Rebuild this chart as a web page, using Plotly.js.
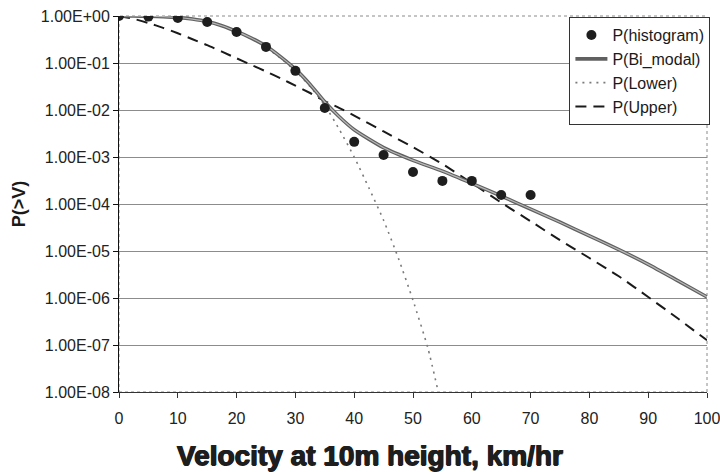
<!DOCTYPE html>
<html>
<head>
<meta charset="utf-8">
<script src="https://cdn.plot.ly/plotly-3.0.1.min.js"></script>
<style>
  html, body { margin: 0; padding: 0; background: #ffffff; }
  #chart { width: 720px; height: 472px; }
</style>
</head>
<body>
<div id="chart"></div>
<script>
// Histogram points
const histVelocity = [0, 5, 10, 15, 20, 25, 30, 35, 40, 45, 50, 55, 60, 65, 70];
const pHistogram = [1.0, 0.97, 0.91, 0.745, 0.457, 0.22, 0.068, 0.011, 0.0021, 0.0011, 0.00048, 0.00031, 0.00031, 0.000155, 0.000155];

// Fitted curves
const fitVelocity = [0, 2.5, 5, 7.5, 10, 12.5, 15, 17.5, 20, 22.5, 25, 27.5, 30, 32.5, 35, 37.5, 40, 45, 50, 55, 60, 65, 70, 75, 80, 85, 90, 95, 100];
const pBimodal = [1.0, 1.0, 0.99, 0.97, 0.93, 0.86, 0.76, 0.62, 0.47, 0.34, 0.23, 0.135, 0.074, 0.035, 0.0148, 0.0071, 0.0038, 0.00158, 0.00085, 0.0005, 0.000275, 0.000148, 7.8e-5, 4.1e-5, 2.1e-5, 1.07e-5, 5.2e-6, 2.35e-6, 1.05e-6];
const pUpper = [1.0, 0.87, 0.71, 0.56, 0.43, 0.32, 0.24, 0.174, 0.126, 0.091, 0.066, 0.047, 0.033, 0.023, 0.0155, 0.011, 0.0076, 0.0035, 0.00162, 0.00071, 0.00028, 0.000107, 4.3e-5, 1.7e-5, 7.1e-6, 2.9e-6, 1.05e-6, 3.7e-7, 1.26e-7];

const lowerVelocity = [0, 5, 10, 15, 20, 22.5, 25, 27.5, 30, 32.5, 35, 37.5, 40, 42.5, 45, 47.5, 50, 52.5, 54.3];
const pLower = [1.0, 0.99, 0.93, 0.76, 0.457, 0.33, 0.214, 0.126, 0.068, 0.0316, 0.0126, 0.0038, 0.001, 0.00022, 4.5e-5, 7.1e-6, 8.9e-7, 8.9e-8, 1.0e-8];

// Axis ticks
const yTickVals = [1, 1e-1, 1e-2, 1e-3, 1e-4, 1e-5, 1e-6, 1e-7, 1e-8];
const yTickText = ['1.00E+00', '1.00E-01', '1.00E-02', '1.00E-03', '1.00E-04', '1.00E-05', '1.00E-06', '1.00E-07', '1.00E-08'];
const xTickVals = [0, 10, 20, 30, 40, 50, 60, 70, 80, 90, 100];

const FONT = '"Liberation Sans", Arial, sans-serif';

const traces = [
  {
    x: lowerVelocity, y: pLower, type: 'scatter', mode: 'lines', name: 'P(Lower)',
    line: { color: '#7a7a7a', width: 1.6, dash: '2px,5px', shape: 'spline', smoothing: 0.6 },
    legendrank: 3
  },
  {
    x: fitVelocity, y: pUpper, type: 'scatter', mode: 'lines', name: 'P(Upper)',
    line: { color: '#1a1a1a', width: 2, dash: '11px,7px', shape: 'spline', smoothing: 0.6 },
    legendrank: 4
  },
  {
    x: fitVelocity, y: pBimodal, type: 'scatter', mode: 'lines', name: 'P(Bi_modal)',
    line: { color: '#606060', width: 3.6, shape: 'spline', smoothing: 0.6 },
    legendrank: 2
  },
  {
    x: fitVelocity, y: pBimodal, type: 'scatter', mode: 'lines', name: 'P(Bi_modal)',
    line: { color: '#b8b8b8', width: 1.2, shape: 'spline', smoothing: 0.6 },
    showlegend: false, hoverinfo: 'skip'
  },
  {
    x: histVelocity, y: pHistogram, type: 'scatter', mode: 'markers', name: 'P(histogram)',
    marker: { color: '#1e1e1e', size: 10, symbol: 'circle' },
    legendrank: 1
  }
];

const layout = {
  width: 720, height: 472,
  margin: { l: 119, r: 13, t: 16, b: 80, autoexpand: false },
  paper_bgcolor: '#ffffff', plot_bgcolor: '#ffffff',
  font: { family: FONT, size: 16, color: '#222' },
  showlegend: true,
  legend: {
    x: 0.766, y: 0.997, xanchor: 'left', yanchor: 'top',
    bgcolor: '#ffffff', bordercolor: '#333', borderwidth: 1,
    font: { family: FONT, size: 16, color: '#1a1a1a' },
    itemwidth: 32, tracegroupgap: 0
  },
  xaxis: {
    type: 'linear', range: [0, 100],
    tickvals: xTickVals, ticks: 'outside', ticklen: 5, tickcolor: '#333',
    ticklabelstandoff: 7, ticklabeloverflow: 'allow',
    showline: true, linecolor: '#333', linewidth: 1,
    showgrid: false, zeroline: false,
    tickfont: { family: FONT, size: 16, color: '#222' }
  },
  yaxis: {
    type: 'log', range: [-8, 0],
    tickvals: yTickVals, ticktext: yTickText,
    ticks: 'outside', ticklen: 5, tickcolor: '#111',
    showline: true, linecolor: '#111', linewidth: 1,
    showgrid: true, gridcolor: '#8c8c8c', gridwidth: 1,
    zeroline: false,
    tickfont: { family: FONT, size: 16, color: '#222' },
    title: { text: 'P(>V)', standoff: 10, font: { family: FONT, size: 18, color: '#1a1a1a', weight: 'bold' } }
  },
  shapes: [
    { type: 'rect', xref: 'paper', yref: 'paper', x0: 0, x1: 1, y0: 0, y1: 1,
      line: { color: '#8a8a8a', width: 1, dash: 'dot' }, layer: 'below' }
  ],
  annotations: [
    { text: 'Velocity at 10m height, km/hr', xref: 'paper', yref: 'paper',
      x: 0.427, y: -0.168, xanchor: 'center', yanchor: 'middle', showarrow: false,
      font: { family: FONT, size: 28, color: '#1e1e1e', weight: 'bold',
              shadow: '0.7px 0 0 #1e1e1e, -0.7px 0 0 #1e1e1e, 0 0.5px 0 #1e1e1e' } }
  ]
};

Plotly.newPlot('chart', traces, layout, { displayModeBar: false, staticPlot: true });
</script>
</body>
</html>
